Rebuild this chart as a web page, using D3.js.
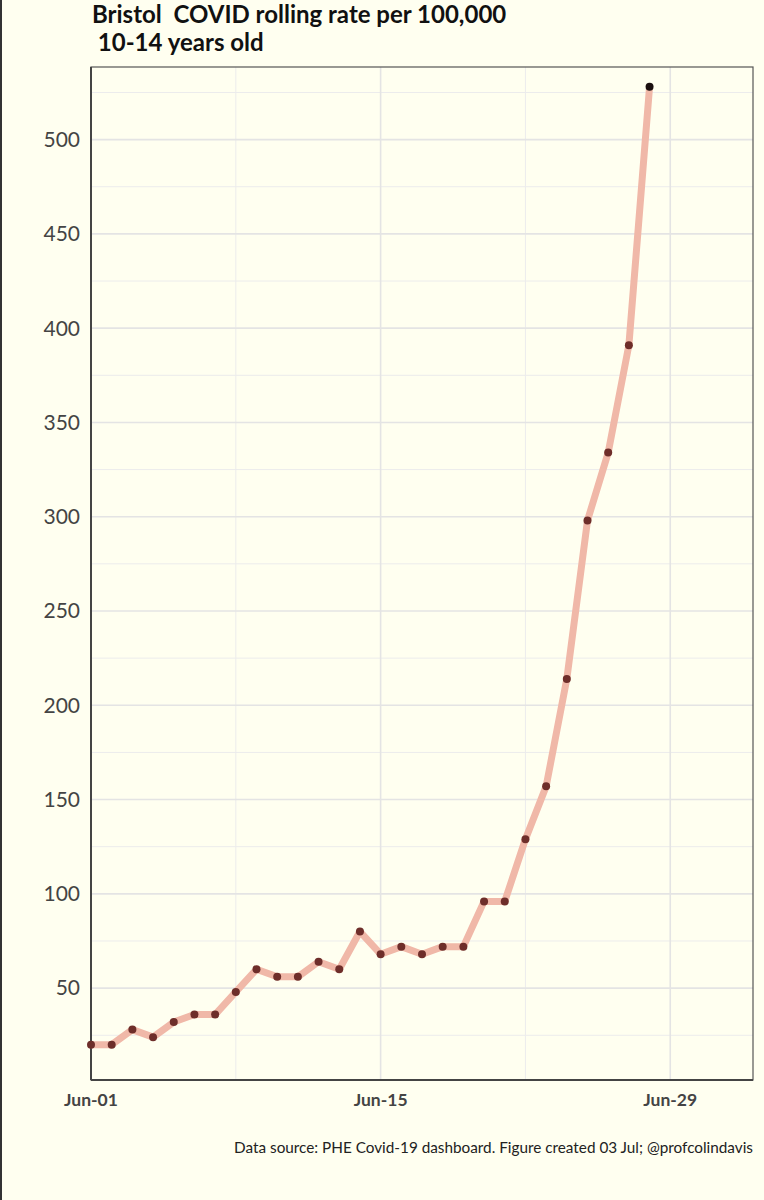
<!DOCTYPE html>
<html><head><meta charset="utf-8">
<script src="https://cdn.jsdelivr.net/npm/d3@7"></script>
<style>body{margin:0;background:#fffff0;} svg{display:block;font-family:Lato,"Open Sans",sans-serif;}</style>
</head><body><svg id="c" width="764" height="1200"></svg>
<script>
const days = d3.range(1, 29);
const rates = [20,20,28,24,32,36,36,48,60,56,56,64,60,80,68,72,68,72,72,96,96,129,157,214,298,334,391,528];
const yTicks = [50,100,150,200,250,300,350,400,450,500];
const xTickDays = [1,15,29];
const xTickLabels = ["Jun-01","Jun-15","Jun-29"];

const svg = d3.select("#c");
svg.append("rect").attr("width",764).attr("height",1200).attr("fill","#fffff0");
svg.append("line").attr("x1",1).attr("x2",1).attr("y1",0).attr("y2",1200).attr("stroke","#333").attr("stroke-width",2);
const L=91,R=753,T=67,B=1080;
const x = d3.scaleLinear().domain([1,33]).range([L,R]);
const y = d3.scaleLinear().domain([0,538.5]).range([1082.4,T]);
const g = svg.append("g");
d3.range(25,550,50).forEach(v=>{ if(y(v)>T && y(v)<B) g.append("line").attr("x1",L).attr("x2",R).attr("y1",y(v)).attr("y2",y(v)).attr("stroke","#ececec").attr("stroke-width",1);});
[8,22].forEach(d=>g.append("line").attr("x1",x(d)).attr("x2",x(d)).attr("y1",T).attr("y2",B).attr("stroke","#ececec").attr("stroke-width",1));
yTicks.forEach(v=>g.append("line").attr("x1",L).attr("x2",R).attr("y1",y(v)).attr("y2",y(v)).attr("stroke","#e4e4e4").attr("stroke-width",1.6));
xTickDays.forEach(d=>g.append("line").attr("x1",x(d)).attr("x2",x(d)).attr("y1",T).attr("y2",B).attr("stroke","#e4e4e4").attr("stroke-width",1.6));
g.append("rect").attr("x",L).attr("y",T).attr("width",R-L).attr("height",B-T).attr("fill","none").attr("stroke","#555").attr("stroke-width",1.2);
g.append("line").attr("x1",L).attr("x2",R).attr("y1",B).attr("y2",B).attr("stroke","#444").attr("stroke-width",2);
g.append("line").attr("x1",L).attr("x2",L).attr("y1",T).attr("y2",B).attr("stroke","#444").attr("stroke-width",2);
const line = d3.line().x((d,i)=>x(days[i])).y(d=>y(d));
g.append("path").datum(rates).attr("d",line).attr("fill","none").attr("stroke","#f0b8a8").attr("stroke-width",7).attr("stroke-linejoin","round");
g.selectAll("circle").data(rates).join("circle").attr("cx",(d,i)=>x(days[i])).attr("cy",d=>y(d)).attr("r",4)
 .attr("fill",(d,i)=>i===rates.length-1?"#1a0f0f":"#6e2e2a");
yTicks.forEach(v=>g.append("text").attr("x",80).attr("y",y(v)).attr("dy","0.35em").attr("text-anchor","end").attr("font-size",21).attr("fill","#444").text(v));
xTickDays.forEach((d,i)=>g.append("text").attr("x",x(d)).attr("y",1106).attr("text-anchor","middle").attr("font-size",17.5).attr("font-weight","bold").attr("fill","#444").text(xTickLabels[i]));
svg.append("text").attr("x",92).attr("y",23).attr("font-size",24).attr("font-weight","bold").attr("fill","#111").attr("xml:space","preserve").style("white-space","pre").text("Bristol  COVID rolling rate per 100,000");
svg.append("text").attr("x",92).attr("y",51).attr("font-size",24).attr("font-weight","bold").attr("fill","#111").attr("xml:space","preserve").style("white-space","pre").text(" 10-14 years old");
svg.append("text").attr("x",753).attr("y",1153).attr("text-anchor","end").attr("font-size",15.3).attr("fill","#222").text("Data source: PHE Covid-19 dashboard. Figure created 03 Jul; @profcolindavis");
</script></body></html>
